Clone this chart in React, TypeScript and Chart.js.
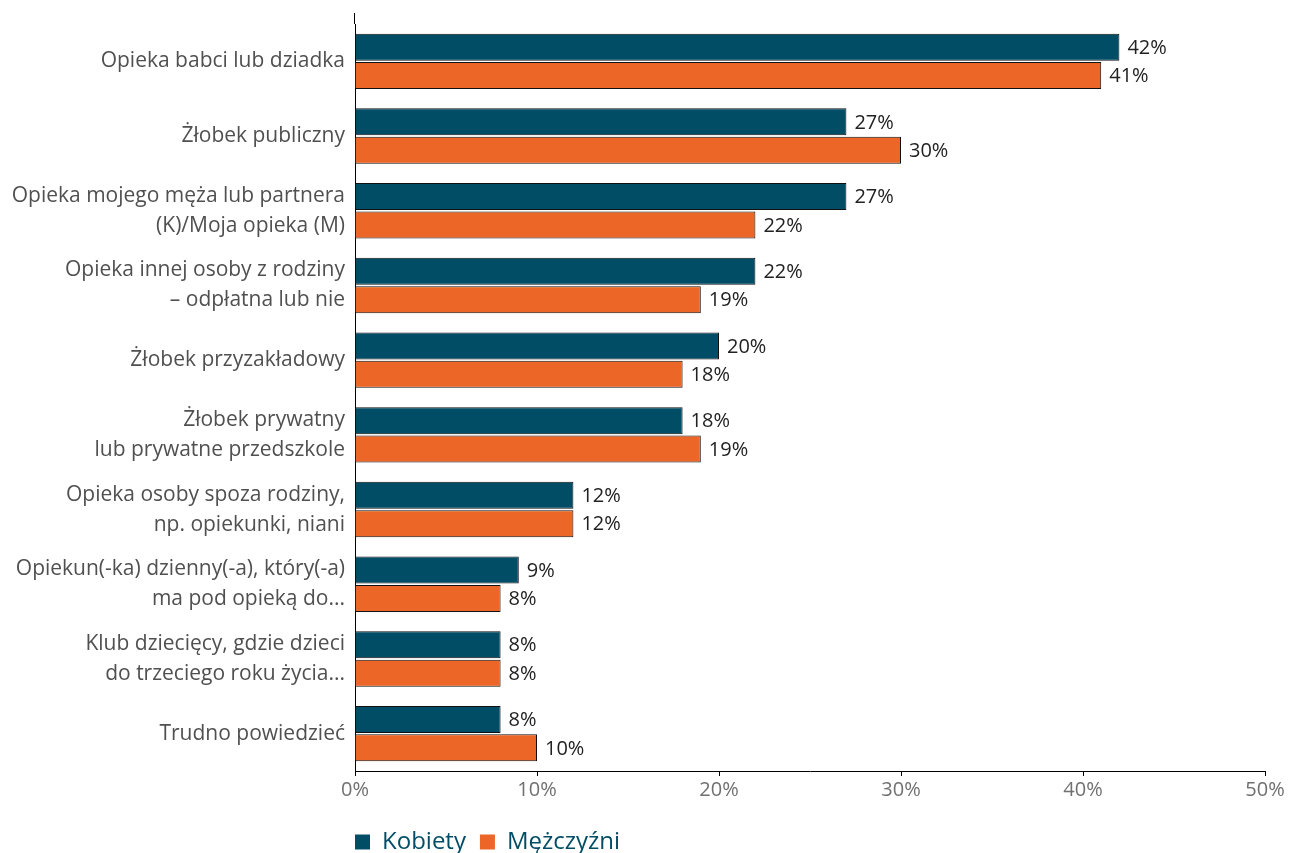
import React, { useEffect, useRef } from "react";
import { Chart, registerables } from "chart.js";
Chart.register(...registerables);

const categories: string[][] = [
  ["Opieka babci lub dziadka"],
  ["Żłobek publiczny"],
  ["Opieka mojego męża lub partnera", "(K)/Moja opieka (M)"],
  ["Opieka innej osoby z rodziny", "– odpłatna lub nie"],
  ["Żłobek przyzakładowy"],
  ["Żłobek prywatny", "lub prywatne przedszkole"],
  ["Opieka osoby spoza rodziny,", "np. opiekunki, niani"],
  ["Opiekun(-ka) dzienny(-a), który(-a)", "ma pod opieką do..."],
  ["Klub dziecięcy, gdzie dzieci", "do trzeciego roku życia..."],
  ["Trudno powiedzieć"],
];
const kobiety = [42, 27, 27, 22, 20, 18, 12, 9, 8, 8];
const mezczyzni = [41, 30, 22, 19, 18, 19, 12, 8, 8, 10];
const seriesNames = ["Kobiety", "Mężczyźni"];
const xMin = 0;
const xMax = 50;
const xStep = 10;

const TEAL = "#024D66";
const ORANGE = "#EC6627";
const FONT = "'Open Sans', sans-serif";
const LEGEND_PAD = 14;

const valueLabels = {
  id: "valueLabels",
  afterDatasetsDraw(chart: any) {
    const ctx = chart.ctx;
    ctx.save();
    ctx.font = `20px ${FONT}`;
    ctx.fillStyle = "#222";
    ctx.textAlign = "left";
    ctx.textBaseline = "middle";
    chart.data.datasets.forEach((ds: any, i: number) => {
      const meta = chart.getDatasetMeta(i);
      meta.data.forEach((bar: any, j: number) => {
        const p = bar.getProps(["x", "y"], true);
        ctx.fillText(ds.data[j] + "%", p.x + 8, p.y + 1);
      });
    });
    ctx.restore();
  },
};

const axisExtension = {
  id: "axisExtension",
  afterLayout(chart: any) {
    if (chart.legend) {
      chart.legend.left = chart.chartArea.left - LEGEND_PAD;
    }
  },
  afterDraw(chart: any) {
    const ctx = chart.ctx;
    const a = chart.chartArea;
    ctx.save();
    ctx.strokeStyle = "#000";
    ctx.lineWidth = 1;
    ctx.beginPath();
    ctx.moveTo(Math.round(a.left) - 0.5, 13);
    ctx.lineTo(Math.round(a.left) - 0.5, a.top);
    ctx.stroke();
    ctx.restore();
  },
};

export default function App() {
  const ref = useRef<HTMLCanvasElement | null>(null);
  useEffect(() => {
    if (!ref.current) return;
    const chart = new Chart(ref.current, {
      type: "bar",
      data: {
        labels: categories,
        datasets: [
          {
            label: seriesNames[0],
            data: kobiety,
            backgroundColor: TEAL,
            borderColor: "#111",
            borderWidth: 1,
            barPercentage: 0.95,
            categoryPercentage: 0.76,
          },
          {
            label: seriesNames[1],
            data: mezczyzni,
            backgroundColor: ORANGE,
            borderColor: "#111",
            borderWidth: 1,
            barPercentage: 0.95,
            categoryPercentage: 0.76,
          },
        ],
      },
      options: {
        indexAxis: "y",
        responsive: false,
        animation: false,
        layout: { padding: { top: 24, right: 40, left: 0, bottom: 0 } },
        plugins: {
          tooltip: { enabled: false },
          legend: {
            position: "bottom",
            align: "start",
            fullSize: false,
            labels: {
              boxWidth: 15,
              boxHeight: 15,
              color: TEAL,
              font: { family: FONT, size: 24 },
              padding: LEGEND_PAD,
              generateLabels: (c: any) =>
                (Chart as any).defaults.plugins.legend.labels
                  .generateLabels(c)
                  .map((l: any) => ({ ...l, lineWidth: 0, strokeStyle: l.fillStyle })),
            },
          },
        },
        scales: {
          x: {
            min: xMin,
            max: xMax,
            ticks: {
              stepSize: xStep,
              callback: (v: any) => v + "%",
              color: "#707070",
              font: { family: FONT, size: 20 },
              padding: 2,
            },
            grid: {
              display: true,
              drawOnChartArea: false,
              drawTicks: true,
              tickLength: 5,
              color: "#000",
            },
            border: { display: true, color: "#000", width: 1 },
            afterFit: (s: any) => {
              s.height = 45;
            },
          },
          y: {
            ticks: {
              color: "#505050",
              font: { family: FONT, size: 21, lineHeight: 1.43 },
              padding: 10,
            },
            grid: { display: true, drawOnChartArea: false, drawTicks: false },
            border: { display: true, color: "#000", width: 1 },
            afterFit: (s: any) => {
              s.width = 355;
              s.paddingTop = 0;
              s.paddingBottom = 0;
            },
          },
        },
      },
      plugins: [valueLabels, axisExtension],
    });
    return () => chart.destroy();
  }, []);
  return (
    <div
      style={{
        position: "absolute",
        left: 0,
        top: 0,
        width: 1305,
        height: 853,
        overflow: "hidden",
      }}
    >
      <canvas ref={ref} width={1305} height={864} />
    </div>
  );
}
